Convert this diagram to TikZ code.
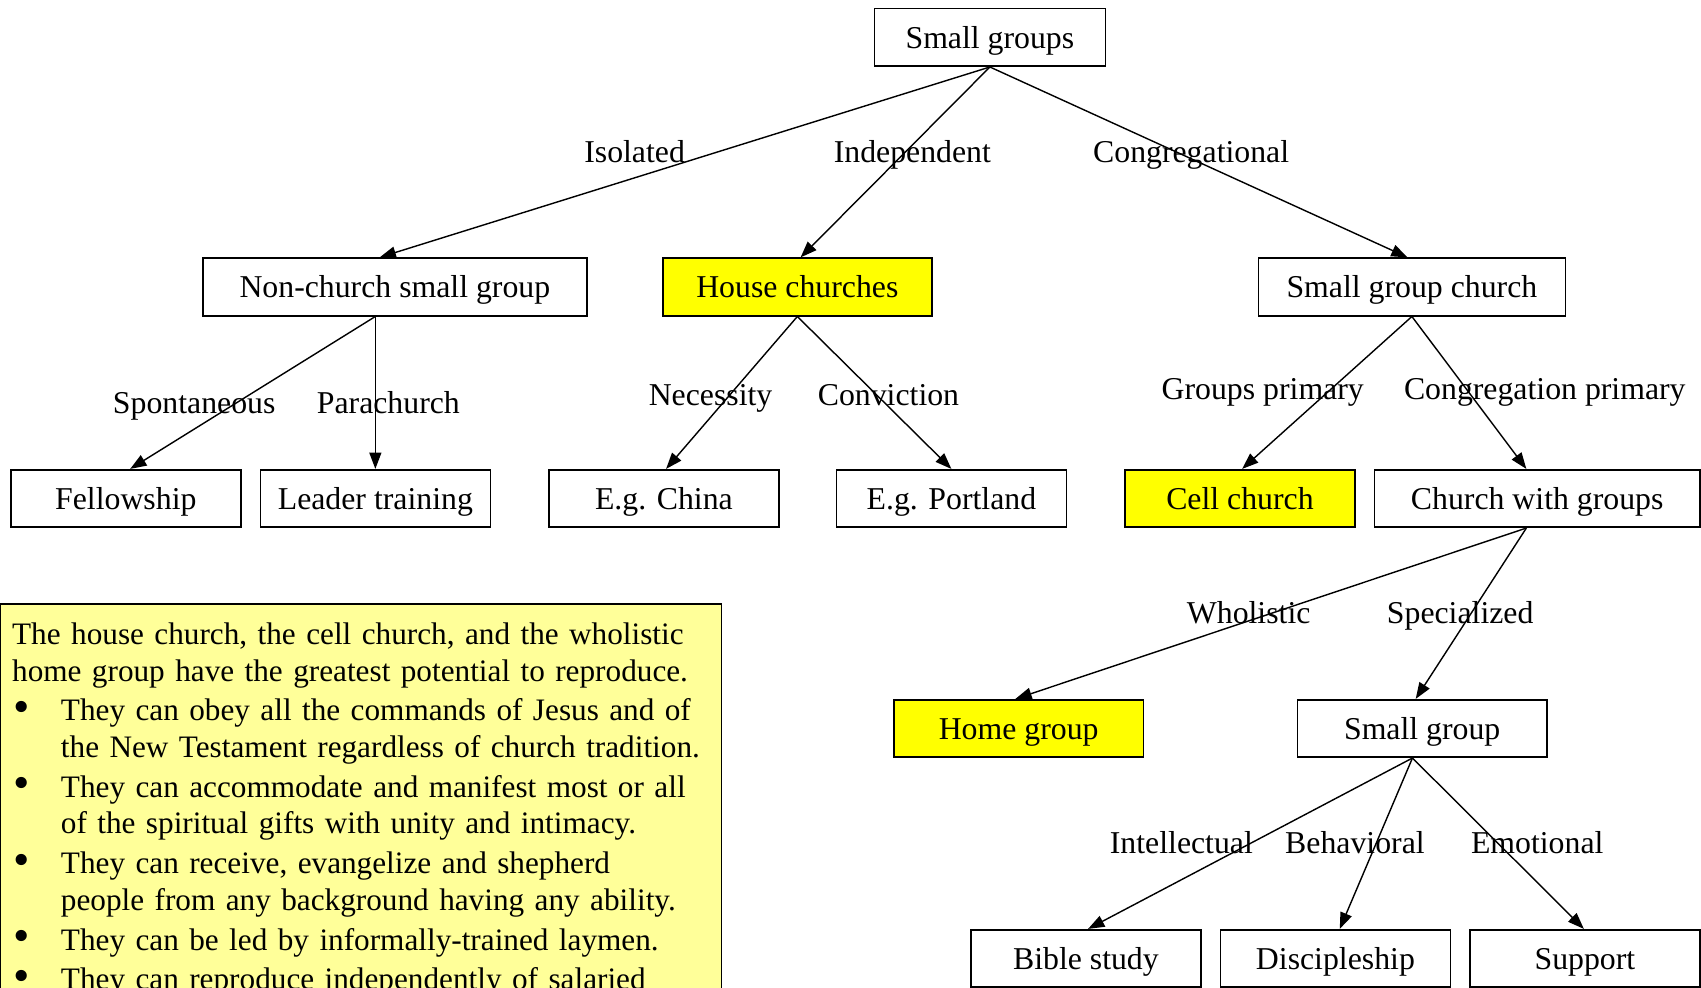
\documentclass[tikz,border=0pt]{standalone}
\usepackage{fontspec}
\setmainfont{Liberation Serif}
\usetikzlibrary{arrows.meta}
\definecolor{boxyellow}{HTML}{FFFF00}
\definecolor{noteyellow}{HTML}{FFFF99}
\newcommand{\bulitem}{\makebox[45pt][l]{\hspace{1pt}\raisebox{-1.5pt}{\scalebox{1.5}{•}}}}
\newcommand{\bulind}{\hspace*{45pt}}
\begin{document}
\begin{tikzpicture}[x=1pt,y=-1pt,
  box/.style={draw=black, line width=1.5pt, fill=white, minimum height=53pt, inner sep=0pt,
    text height=23pt, text depth=3pt, font=\fontsize{29.3}{33}\selectfont},
  hl/.style={box, fill=boxyellow},
  lbl/.style={font=\fontsize{29.3}{33}\selectfont, inner sep=0pt, text height=23pt, text depth=3pt},
  arr/.style={line width=1.3pt, -{Triangle[length=15pt,width=11pt]}}]
\useasboundingbox (0,0) rectangle (1568,910);
% boxes
\node[box, minimum width=213pt] (sg) at (912.5,34.5) {Small groups};
\node[box, minimum width=354pt] (ncsg) at (364,264.5) {Non-church small group};
\node[hl, minimum width=248pt] (hc) at (735,264.5) {House churches};
\node[box, minimum width=283pt] (sgc) at (1301.5,264.5) {Small group church};
\node[box, minimum width=212pt] (fel) at (116,459.5) {Fellowship};
\node[box, minimum width=212pt] (lt) at (346,459.5) {Leader training};
\node[box, minimum width=212pt] (chi) at (612,459.5) {E.g. China};
\node[box, minimum width=212pt] (por) at (877,459.5) {E.g. Portland};
\node[hl, minimum width=212pt] (cell) at (1143,459.5) {Cell church};
\node[box, minimum width=300pt] (cwg) at (1417,459.5) {Church with groups};
\node[hl, minimum width=230pt] (home) at (939,671.5) {Home group};
\node[box, minimum width=230pt] (smg) at (1311,671.5) {Small group};
\node[box, minimum width=212pt] (bib) at (1001,883.5) {Bible study};
\node[box, minimum width=212pt] (dis) at (1231,883.5) {Discipleship};
\node[box, minimum width=212pt] (sup) at (1461,883.5) {Support};
% edges
\draw[arr] (sg.south) -- ([xshift=-14pt]ncsg.north);
\draw[arr] (sg.south) -- ([xshift=3pt]hc.north);
\draw[arr] (sg.south) -- ([xshift=-4pt]sgc.north);
\draw[arr] ([xshift=-18pt]ncsg.south) -- ([xshift=4pt]fel.north);
\draw[arr] ([xshift=-18pt]ncsg.south) -- (lt.north);
\draw[arr] (hc.south) -- ([xshift=2pt]chi.north);
\draw[arr] (hc.south) -- (por.north);
\draw[arr] (sgc.south) -- ([xshift=2pt]cell.north);
\draw[arr] (sgc.south) -- ([xshift=-10pt]cwg.north);
\draw[arr] ([xshift=-10pt]cwg.south) -- ([xshift=-3pt]home.north);
\draw[arr] ([xshift=-10pt]cwg.south) -- ([xshift=-6pt]smg.north);
\draw[arr] ([xshift=-9pt]smg.south) -- ([xshift=2pt]bib.north);
\draw[arr] ([xshift=-9pt]smg.south) -- ([xshift=4pt]dis.north);
\draw[arr] ([xshift=-9pt]smg.south) -- ([xshift=-1pt]sup.north);
% labels
\node[lbl] (l1) at (585,140) {Isolated};
\node[lbl] (l2) at (841,140) {Independent};
\node[lbl] (l3) at (1098,140) {Congregational};
\node[lbl] (l4) at (179,371) {Spontaneous};
\node[lbl] (l5) at (358,371) {Parachurch};
\node[lbl] (l6) at (655,364) {Necessity};
\node[lbl] (l7) at (819,364) {Conviction};
\node[lbl] (l8) at (1164,358) {Groups primary};
\node[lbl] (l9) at (1424,358) {Congregation primary};
\node[lbl] (l10) at (1151,565) {Wholistic};
\node[lbl] (l11) at (1346,565) {Specialized};
\node[lbl] (l12) at (1089,777) {Intellectual};
\node[lbl] (l13) at (1249,777) {Behavioral};
\node[lbl] (l14) at (1417,777) {Emotional};
% note box
\draw[line width=1.5pt, fill=noteyellow] (0.5,557) rectangle (665,940);
\node[anchor=north west, inner sep=0pt, text width=650pt, align=left,
  font=\fontsize{28.8}{33.7}\selectfont] (note) at (11,574)
 {The house church, the cell church, and the wholistic\\
  home group have the greatest potential to reproduce.\\[3pt]
  \bulitem They can obey all the commands of Jesus and of\\
  \bulind the New Testament regardless of church tradition.\\[3pt]
  \bulitem They can accommodate and manifest most or all\\
  \bulind of the spiritual gifts with unity and intimacy.\\[3pt]
  \bulitem They can receive, evangelize and shepherd\\
  \bulind people from any background having any ability.\\[3pt]
  \bulitem They can be led by informally-trained laymen.\\[3pt]
  \bulitem They can reproduce independently of salaried};
\end{tikzpicture}
\end{document}
